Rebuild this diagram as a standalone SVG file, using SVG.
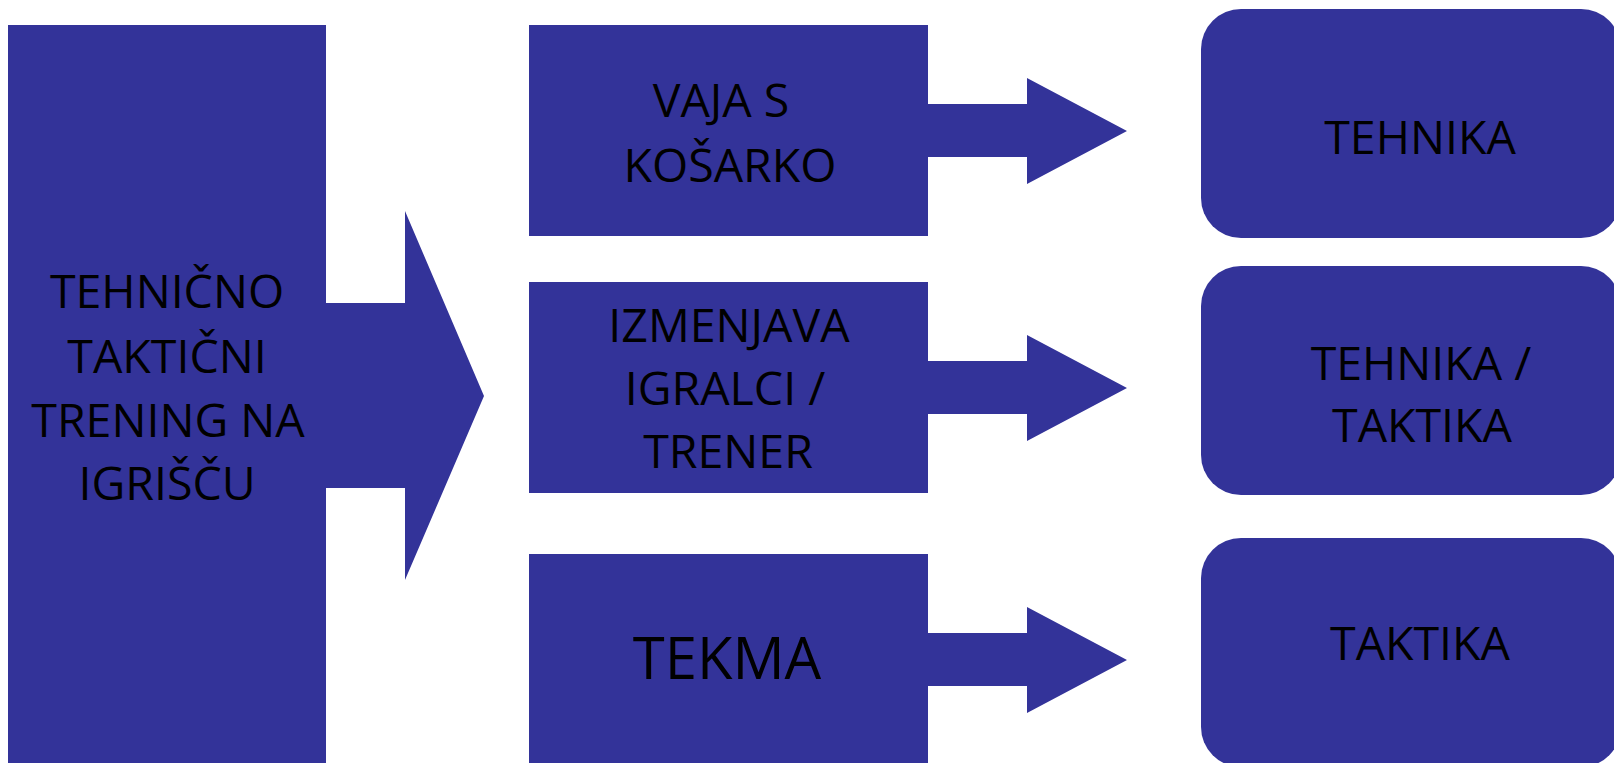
<svg xmlns="http://www.w3.org/2000/svg" width="1614" height="763" viewBox="0 0 1614 763">
<style>
.b{fill:#333399}
.t{font-family:"Open Sans","Liberation Sans",sans-serif;font-size:46.5px;fill:#000;text-anchor:middle}
.big{font-size:58px}
</style>
<rect width="1614" height="763" fill="#fff"/>
<g id="connectors">
<polygon class="b" points="326,303 405,303 405,211 484,396 405,580 405,488 326,488"/>
<polygon class="b" points="928,104 1027,104 1027,78 1127,131 1027,184 1027,157 928,157"/>
<polygon class="b" points="928,361 1027,361 1027,335 1127,388 1027,441 1027,414 928,414"/>
<polygon class="b" points="928,633 1027,633 1027,607 1127,660 1027,713 1027,686 928,686"/>
</g>
<g id="n-main">
<rect class="b" x="8" y="25" width="318" height="760"/>
<text class="t"><tspan x="167" y="308">TEHNIČNO</tspan><tspan x="167" y="373">TAKTIČNI</tspan><tspan x="168" y="437">TRENING NA</tspan><tspan x="167" y="500">IGRIŠČU</tspan></text>
</g>
<g id="n-vaja">
<rect class="b" x="529" y="25" width="399" height="211"/>
<text class="t"><tspan x="727" y="117">VAJA S </tspan><tspan x="730" y="182">KOŠARKO</tspan></text>
</g>
<g id="n-izmenjava">
<rect class="b" x="529" y="282" width="399" height="211"/>
<text class="t"><tspan x="729" y="342">IZMENJAVA</tspan><tspan x="725" y="405">IGRALCI /</tspan><tspan x="728" y="468">TRENER</tspan></text>
</g>
<g id="n-tekma">
<rect class="b" x="529" y="554" width="399" height="240"/>
<text class="t big" x="727" y="679">TEKMA</text>
</g>
<g id="n-tehnika">
<rect class="b" x="1201" y="9" width="420" height="229" rx="40"/>
<text class="t" x="1420" y="154">TEHNIKA</text>
</g>
<g id="n-tehtak">
<rect class="b" x="1201" y="266" width="420" height="229" rx="40"/>
<text class="t"><tspan x="1421" y="380">TEHNIKA /</tspan><tspan x="1422" y="442">TAKTIKA</tspan></text>
</g>
<g id="n-taktika">
<rect class="b" x="1201" y="538" width="420" height="229" rx="40"/>
<text class="t" x="1420" y="660">TAKTIKA</text>
</g>
</svg>
